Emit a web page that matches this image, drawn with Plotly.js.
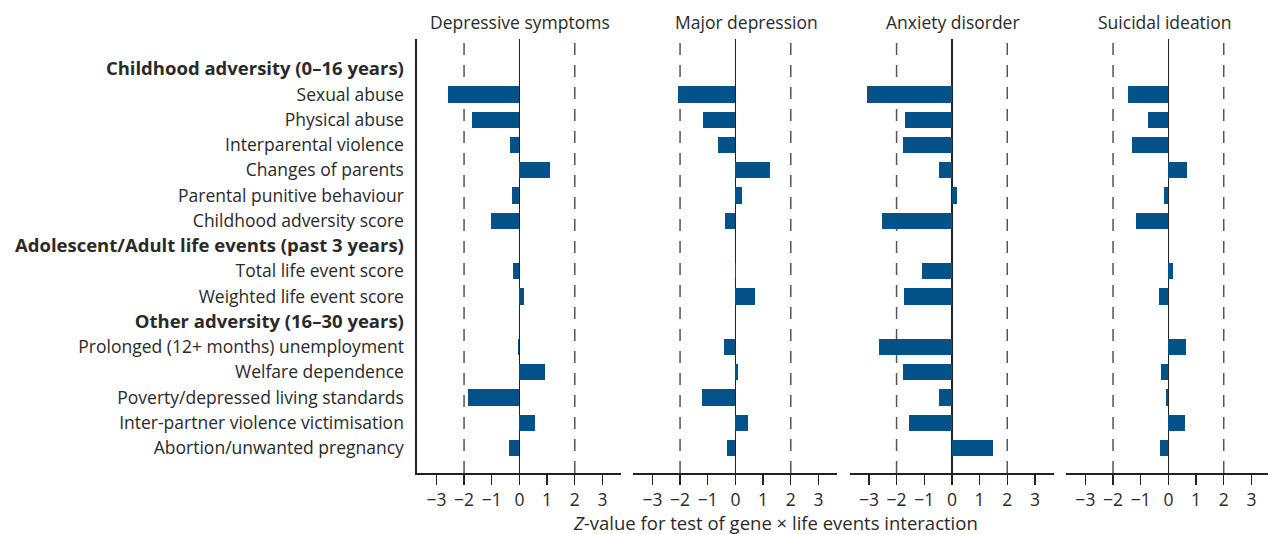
<!DOCTYPE html>
<html>
<head>
<meta charset="utf-8">
<script src="https://cdn.plot.ly/plotly-3.0.1.min.js"></script>
<style>html,body{margin:0;padding:0;background:#fff;}#chart{width:1268px;height:534px;}</style>
</head>
<body>
<div id="chart"></div>
<script>
// Row labels (top to bottom); headers are bold group titles
const rowLabels = [
  "Childhood adversity (0–16 years)",
  "Sexual abuse",
  "Physical abuse",
  "Interparental violence",
  "Changes of parents",
  "Parental punitive behaviour",
  "Childhood adversity score",
  "Adolescent/Adult life events (past 3 years)",
  "Total life event score",
  "Weighted life event score",
  "Other adversity (16–30 years)",
  "Prolonged (12+ months) unemployment",
  "Welfare dependence",
  "Poverty/depressed living standards",
  "Inter-partner violence victimisation",
  "Abortion/unwanted pregnancy"
];
const headerRows = [0, 7, 10];
// rows that carry bars
const itemRows = [1, 2, 3, 4, 5, 6, 8, 9, 11, 12, 13, 14, 15];

const panelTitles = ["Depressive symptoms", "Major depression", "Anxiety disorder", "Suicidal ideation"];

// Z-values per outcome, in itemRows order
const depressiveSymptoms = [-2.57, -1.72, -0.33, 1.10, -0.27, -1.04, -0.22, 0.17, -0.06, 0.92, -1.86, 0.58, -0.37];
const majorDepression    = [-2.06, -1.18, -0.64, 1.25, 0.22, -0.36, 0.02, 0.71, -0.41, 0.11, -1.20, 0.47, -0.30];
const anxietyDisorder    = [-3.05, -1.70, -1.77, -0.47, 0.20, -2.51, -1.09, -1.72, -2.62, -1.77, -0.47, -1.56, 1.49];
const suicidalIdeation   = [-1.47, -0.74, -1.32, 0.66, -0.16, -1.18, 0.15, -0.35, 0.62, -0.27, -0.08, 0.59, -0.30];

const xTicks = [-3, -2, -1, 0, 1, 2, 3];
const refLines = [-2, 2];
const xTitle = "<i>Z</i>-value for test of gene × life events interaction";

const series = [depressiveSymptoms, majorDepression, anxietyDisorder, suicidalIdeation];

const W = 1268, H = 534;
const barColor = "#03528a";
const textColor = "#2a2a2a";
const fontFam = "'Open Sans', 'DejaVu Sans', sans-serif";

const panelLeft = [417, 633, 849.5, 1066];
const panelRight = [621, 837, 1053.5, 1268];
const titleX = [0.505, 0.555, 0.505, 0.49];
const yTopPx = 39, yBotPx = 473;

const traces = series.map((vals, i) => ({
  type: "bar",
  orientation: "h",
  x: vals,
  y: itemRows,
  xaxis: i === 0 ? "x" : "x" + (i + 1),
  yaxis: "y",
  width: 0.65,
  marker: {color: barColor, line: {width: 0}},
  hoverinfo: "x+y",
  showlegend: false
}));

const layout = {
  width: W, height: H,
  margin: {l: 0, r: 0, t: 0, b: 0},
  paper_bgcolor: "#fff",
  plot_bgcolor: "rgba(0,0,0,0)",
  font: {family: fontFam, size: 16, color: textColor},
  bargap: 0,
  yaxis: {
    domain: [1 - yBotPx / H, 1 - yTopPx / H],
    range: [15.99, -1.2],
    tickvals: rowLabels.map((_, i) => i),
    ticktext: rowLabels.map((t, i) => headerRows.includes(i)
      ? "<span style=\"font-size:18.5px\"><b>" + t + "</b></span>" : t),
    ticks: "",
    ticklabelstandoff: 8,
    showgrid: false,
    zeroline: false,
    showline: true,
    linecolor: "#222",
    linewidth: 1.6,
    anchor: "x",
    tickfont: {size: 17.5, color: textColor},
    fixedrange: true
  },
  shapes: [],
  annotations: []
};

for (let i = 0; i < 4; i++) {
  const key = i === 0 ? "xaxis" : "xaxis" + (i + 1);
  const rng = i === 3 ? [-3.7, 3.6] : [-3.7, 3.67];
  layout[key] = {
    domain: [panelLeft[i] / W, panelRight[i] / W],
    range: rng,
    anchor: "y",
    tickvals: xTicks,
    ticks: "outside",
    ticklen: 10,
    tickwidth: 1.4,
    tickcolor: "#222",
    showline: true,
    linecolor: "#222",
    linewidth: 1.8,
    showgrid: false,
    zeroline: true,
    zerolinecolor: "#222",
    zerolinewidth: 1.5,
    tickfont: {size: 17.5, color: textColor},
    fixedrange: true
  };
  const xr = i === 0 ? "x" : "x" + (i + 1);
  refLines.forEach(v => {
    layout.shapes.push({
      type: "line", layer: "below",
      xref: xr, x0: v, x1: v,
      yref: "y domain", y0: 0, y1: 1,
      line: {color: "#555", width: 1.5, dash: "12px,10px"}
    });
  });
  layout.annotations.push({
    text: panelTitles[i],
    xref: xr + " domain", x: titleX[i], xanchor: "center",
    yref: "paper", y: 1 - 22 / H, yanchor: "middle",
    showarrow: false,
    font: {size: 17.5, color: textColor}
  });
}

layout.annotations.push({
  text: xTitle,
  xref: "paper", x: 775 / W, xanchor: "center",
  yref: "paper", y: 1 - 522.5 / H, yanchor: "middle",
  showarrow: false,
  font: {size: 18.5, color: textColor}
});

Plotly.newPlot("chart", traces, layout, {displayModeBar: false, staticPlot: true});
</script>
</body>
</html>
